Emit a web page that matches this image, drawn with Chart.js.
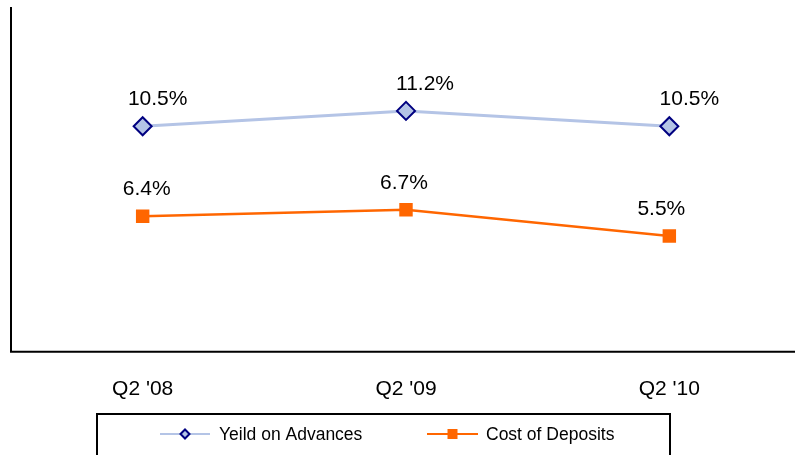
<!DOCTYPE html>
<html>
<head>
<meta charset="utf-8">
<script src="https://cdn.jsdelivr.net/npm/chart.js@4"></script>
<style>
html,body{margin:0;padding:0;background:#fff;overflow:hidden;}
#wrap{width:812px;height:455px;position:relative;}
</style>
</head>
<body>
<div id="wrap"><canvas id="c" width="812" height="455"></canvas></div>
<script>
const categories = ["Q2 '08", "Q2 '09", "Q2 '10"];
const yieldOnAdvances = [10.5, 11.2, 10.5];
const costOfDeposits = [6.4, 6.7, 5.5];
const seriesNames = ["Yeild on Advances", "Cost of Deposits"];

const FONT = "'Liberation Sans', Arial, sans-serif";

const axisLines = {
  id: 'axisLines',
  beforeDatasetsDraw(chart) {
    const {ctx, chartArea} = chart;
    ctx.save();
    ctx.strokeStyle = '#000';
    ctx.lineWidth = 2;
    ctx.beginPath();
    ctx.moveTo(chartArea.left, Math.max(0, chartArea.top - 4));
    ctx.lineTo(chartArea.left, chartArea.bottom);
    ctx.lineTo(chart.width, chartArea.bottom);
    ctx.stroke();
    ctx.restore();
  }
};

const valueLabels = {
  id: 'valueLabels',
  afterDatasetsDraw(chart) {
    const {ctx} = chart;
    ctx.save();
    ctx.font = '21px ' + FONT;
    ctx.fillStyle = '#000';
    ctx.textAlign = 'center';
    ctx.textBaseline = 'middle';
    chart.data.datasets.forEach((ds, i) => {
      const meta = chart.getDatasetMeta(i);
      meta.data.forEach((pt, j) => {
        const dx = (ds.labelDx || [])[j] || 0;
        ctx.fillText(ds.data[j].toFixed(1) + '%', pt.x + dx, pt.y - 27);
      });
    });
    ctx.restore();
  }
};

const boxLegend = {
  id: 'boxLegend',
  afterDraw(chart) {
    const {ctx} = chart;
    ctx.save();
    ctx.strokeStyle = '#000';
    ctx.lineWidth = 2;
    ctx.strokeRect(97, 414, 573, 60);
    const ds = chart.data.datasets;
    const items = [{x0: 160, x1: 210, text: 219}, {x0: 427, x1: 478, text: 486}];
    const y = 434;
    items.forEach((it, i) => {
      const d = ds[i];
      ctx.strokeStyle = d.borderColor;
      ctx.lineWidth = 2;
      ctx.beginPath();
      ctx.moveTo(it.x0, y);
      ctx.lineTo(it.x1, y);
      ctx.stroke();
      const cx = (it.x0 + it.x1) / 2;
      ctx.fillStyle = d.pointBackgroundColor;
      ctx.strokeStyle = d.pointBorderColor;
      ctx.lineWidth = 2;
      ctx.beginPath();
      if (d.pointStyle === 'rectRot') {
        const r = 4.5;
        ctx.moveTo(cx - r, y); ctx.lineTo(cx, y - r); ctx.lineTo(cx + r, y); ctx.lineTo(cx, y + r); ctx.closePath();
        ctx.fill(); ctx.stroke();
      } else {
        ctx.rect(cx - 5, y - 5, 10, 10);
        ctx.fill();
      }
      ctx.fillStyle = '#000';
      ctx.font = '17.5px ' + FONT;
      ctx.textAlign = 'left';
      ctx.textBaseline = 'middle';
      ctx.fillText(d.label, it.text, y + 1);
    });
    ctx.restore();
  }
};

new Chart(document.getElementById('c'), {
  type: 'line',
  data: {
    labels: categories,
    datasets: [
      {
        label: seriesNames[0],
        data: yieldOnAdvances,
        borderColor: '#B4C4E6',
        borderWidth: 3,
        pointStyle: 'rectRot',
        pointRadius: 9,
        pointHoverRadius: 9,
        pointBackgroundColor: '#B4C4E6',
        pointBorderColor: '#000080',
        pointBorderWidth: 2,
        labelDx: [15, 19, 20],
        tension: 0
      },
      {
        label: seriesNames[1],
        data: costOfDeposits,
        borderColor: '#FF6600',
        borderWidth: 2.5,
        pointStyle: 'rect',
        pointRadius: 9.5,
        pointHoverRadius: 9.5,
        pointBackgroundColor: '#FF6600',
        pointBorderColor: '#FF6600',
        pointBorderWidth: 0,
        labelDx: [4, -2, -8],
        tension: 0
      }
    ]
  },
  options: {
    responsive: false,
    animation: false,
    events: [],
    layout: {padding: {left: 10, top: 0, right: 1, bottom: 37}},
    plugins: {legend: {display: false}, tooltip: {enabled: false}},
    scales: {
      x: {
        offset: true,
        grid: {display: false},
        border: {display: false},
        ticks: {color: '#000', font: {size: 21, family: FONT}, padding: 16.5, maxRotation: 0}
      },
      y: {
        display: false,
        min: 0.23,
        max: 15.75
      }
    }
  },
  plugins: [axisLines, valueLabels, boxLegend]
});
</script>
</body>
</html>
